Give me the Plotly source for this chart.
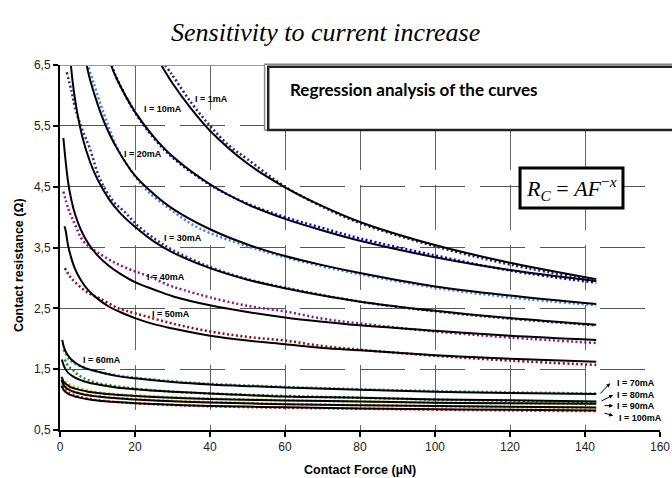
import plotly.graph_objects as go

# ---------------- data ----------------
currents = ["1mA", "10mA", "20mA", "30mA", "40mA", "50mA", "60mA", "70mA", "80mA", "90mA", "100mA"]

# fitted curves (black)  R = A F^-x
fit_x_1 = [27, 30, 35, 40, 50, 60, 70, 80, 100, 120, 143]
fit_y_1 = [6.5, 6.2, 5.78, 5.42, 4.88, 4.49, 4.18, 3.92, 3.54, 3.25, 2.98]
fit_x_10 = [13.6, 15, 20, 25, 30, 40, 50, 60, 70, 80, 100, 120, 143]
fit_y_10 = [6.5, 6.29, 5.73, 5.32, 5.0, 4.54, 4.21, 3.97, 3.78, 3.61, 3.34, 3.13, 2.95]
fit_x_20 = [7.1, 8, 10, 12, 15, 20, 25, 30, 40, 50, 60, 70, 80, 100, 120, 143]
fit_y_20 = [6.5, 6.26, 5.86, 5.53, 5.15, 4.68, 4.38, 4.14, 3.8, 3.55, 3.36, 3.21, 3.08, 2.86, 2.71, 2.57]
fit_x_30 = [2.9, 3.5, 4.5, 6, 8, 10, 13, 16, 20, 25, 30, 40, 50, 60, 70, 80, 100, 120, 143]
fit_y_30 = [6.5, 6.16, 5.75, 5.31, 4.91, 4.62, 4.3, 4.07, 3.84, 3.6, 3.42, 3.16, 2.97, 2.83, 2.71, 2.61, 2.46, 2.34, 2.23]
fit_x_40 = [0.9, 1.5, 2.2, 3, 4, 5.5, 7.5, 10, 13, 16, 20, 25, 30, 40, 50, 60, 70, 80, 100, 120, 143]
fit_y_40 = [5.3, 4.92, 4.56, 4.29, 4.05, 3.8, 3.57, 3.37, 3.2, 3.07, 2.93, 2.81, 2.7, 2.55, 2.44, 2.35, 2.28, 2.22, 2.13, 2.05, 1.98]
fit_x_50 = [1.2, 1.5, 2.2, 3, 4, 5.5, 7.5, 10, 13, 16, 20, 25, 30, 40, 50, 60, 70, 80, 100, 120, 143]
fit_y_50 = [3.85, 3.78, 3.52, 3.33, 3.15, 2.97, 2.8, 2.66, 2.53, 2.44, 2.34, 2.24, 2.17, 2.05, 1.97, 1.91, 1.85, 1.81, 1.73, 1.67, 1.62]
fit_x_60 = [0.6, 1, 1.5, 2.2, 3, 4, 5.5, 7.5, 10, 15, 20, 30, 40, 60, 80, 100, 120, 143]
fit_y_60 = [1.98, 1.87, 1.79, 1.72, 1.66, 1.61, 1.55, 1.5, 1.46, 1.39, 1.35, 1.29, 1.25, 1.2, 1.16, 1.13, 1.11, 1.09]
fit_x_70 = [0.5, 1, 1.5, 2.2, 3, 4, 5.5, 7.5, 10, 15, 20, 30, 40, 60, 80, 100, 120, 143]
fit_y_70 = [1.66, 1.56, 1.5, 1.44, 1.4, 1.36, 1.32, 1.28, 1.25, 1.2, 1.17, 1.13, 1.1, 1.05, 1.03, 1.0, 0.99, 0.97]
fit_x_low = [0.4, 1, 1.5, 2.2, 3, 4, 5.5, 7.5, 10, 15, 20, 30, 40, 60, 80, 100, 120, 143]
fit_y_80 = [1.375, 1.29, 1.26, 1.23, 1.2, 1.18, 1.155, 1.13, 1.11, 1.08, 1.06, 1.03, 1.01, 0.985, 0.97, 0.95, 0.94, 0.93]
fit_y_90 = [1.32, 1.24, 1.2, 1.17, 1.144, 1.12, 1.096, 1.07, 1.05, 1.02, 1.0, 0.972, 0.952, 0.925, 0.907, 0.893, 0.881, 0.87]
fit_y_100 = [1.23, 1.156, 1.124, 1.095, 1.072, 1.05, 1.028, 1.006, 0.986, 0.959, 0.94, 0.914, 0.896, 0.872, 0.854, 0.841, 0.831, 0.821]

# measured curves (coloured dots)
meas_x_1 = [28, 30, 35, 40, 45, 50, 60, 70, 80, 100, 120, 143]
meas_y_1 = [6.5, 6.33, 5.88, 5.5, 5.18, 4.95, 4.5, 4.17, 3.9, 3.52, 3.22, 2.95]
meas_x_10 = [13.8, 15, 20, 25, 30, 40, 50, 60, 70, 80, 100, 120, 143]
meas_y_10 = [6.5, 6.3, 5.72, 5.3, 4.98, 4.53, 4.22, 4.0, 3.82, 3.65, 3.37, 3.12, 2.92]
meas_x_20 = [7.6, 9, 11, 13, 15, 18, 23, 30, 37, 50, 60, 70, 80, 100, 120, 143]
meas_y_20 = [6.46, 6.2, 5.82, 5.48, 5.17, 4.85, 4.45, 4.1, 3.82, 3.52, 3.34, 3.19, 3.06, 2.84, 2.68, 2.55]
meas_x_30 = [1.8, 3.1, 4, 5.8, 8, 10.7, 14.2, 17.3, 20.9, 25.8, 30, 40, 50, 60, 80, 100, 120, 143]
meas_y_30 = [6.38, 6.06, 5.8, 5.46, 5.12, 4.62, 4.26, 4.08, 3.85, 3.62, 3.46, 3.18, 2.98, 2.84, 2.61, 2.45, 2.33, 2.22]
meas_x_40 = [0.9, 2.2, 3.1, 4.4, 5.8, 8, 10, 14, 19, 24, 29, 33, 40, 50, 60, 70, 80, 100, 120, 143]
meas_y_40 = [4.42, 4.14, 4.0, 3.82, 3.64, 3.5, 3.42, 3.27, 3.13, 3.02, 2.88, 2.8, 2.68, 2.54, 2.45, 2.33, 2.25, 2.12, 2.02, 1.93]
meas_x_50 = [1.3, 2.7, 4.9, 7.6, 10.7, 15.6, 20, 30, 40, 50, 60, 70, 80, 100, 120, 143]
meas_y_50 = [3.16, 3.02, 2.88, 2.75, 2.66, 2.5, 2.42, 2.25, 2.12, 2.03, 1.97, 1.88, 1.82, 1.72, 1.64, 1.57]
meas_x_60 = [0.9, 1.5, 2.2, 3, 4, 5.5, 7.5, 10, 15, 20, 30, 40, 60, 80, 100, 120, 143]
meas_y_60 = [1.82, 1.75, 1.68, 1.63, 1.59, 1.55, 1.5, 1.46, 1.4, 1.36, 1.3, 1.26, 1.21, 1.17, 1.14, 1.12, 1.1]
meas_x_70 = [1.3, 2.2, 3.5, 5, 7.5, 10, 15, 20, 30, 40, 60, 80, 100, 120, 143]
meas_y_70 = [1.66, 1.55, 1.48, 1.4, 1.32, 1.27, 1.22, 1.18, 1.13, 1.1, 1.06, 1.03, 1.0, 0.98, 0.96]
meas_x_low = [0.5, 1.3, 2.2, 3.5, 5, 7.5, 10, 15, 20, 30, 40, 60, 80, 100, 120, 143]
meas_y_80 = [1.35, 1.3, 1.26, 1.22, 1.19, 1.15, 1.12, 1.09, 1.07, 1.04, 1.02, 0.99, 0.97, 0.95, 0.94, 0.93]
meas_y_90 = [1.27, 1.22, 1.18, 1.14, 1.11, 1.08, 1.06, 1.03, 1.01, 0.98, 0.96, 0.93, 0.91, 0.89, 0.875, 0.86]
meas_y_100 = [1.22, 1.17, 1.12, 1.08, 1.05, 1.02, 0.99, 0.96, 0.94, 0.91, 0.89, 0.865, 0.85, 0.835, 0.82, 0.81]

x_ticks = [0, 20, 40, 60, 80, 100, 120, 140, 160]
y_ticks = [0.5, 1.5, 2.5, 3.5, 4.5, 5.5, 6.5]
y_tick_labels = ["0,5", "1,5", "2,5", "3,5", "4,5", "5,5", "6,5"]

# ---------------- assembly ----------------
fits = [(fit_x_1, fit_y_1), (fit_x_10, fit_y_10), (fit_x_20, fit_y_20), (fit_x_30, fit_y_30),
        (fit_x_40, fit_y_40), (fit_x_50, fit_y_50), (fit_x_60, fit_y_60), (fit_x_70, fit_y_70),
        (fit_x_low, fit_y_80), (fit_x_low, fit_y_90), (fit_x_low, fit_y_100)]
meas = [(meas_x_1, meas_y_1), (meas_x_10, meas_y_10), (meas_x_20, meas_y_20), (meas_x_30, meas_y_30),
        (meas_x_40, meas_y_40), (meas_x_50, meas_y_50), (meas_x_60, meas_y_60), (meas_x_70, meas_y_70),
        (meas_x_low, meas_y_80), (meas_x_low, meas_y_90), (meas_x_low, meas_y_100)]
meas_colors = ["#1f1f8f", "#0000ff", "#3d7dff", "#2b2ba8", "#8b1a8b", "#8b1010",
               "#2a9a9a", "#1e8c1e", "#a8d000", "#ff9900", "#ff1a1a"]

fig = go.Figure()
for name, (mx, my), col in zip(currents, meas, meas_colors):
    fig.add_trace(go.Scatter(x=mx, y=my, mode="lines", name="I = " + name + " (measured)",
                             line=dict(color=col, width=2.5, dash="2px,2.5px", shape="spline", smoothing=1)))
for name, (fx, fy) in zip(currents, fits):
    fig.add_trace(go.Scatter(x=fx, y=fy, mode="lines", name="I = " + name + " (fit)",
                             line=dict(color="black", width=2, shape="spline", smoothing=1)))

lab_font = dict(family="Liberation Sans, Arial", size=9, color="black")
label_pos = {"1mA": (40.5, 5.94), "10mA": (27.5, 5.78), "20mA": (22.1, 5.04), "30mA": (32.8, 3.66),
             "40mA": (28.3, 3.02), "50mA": (29.6, 2.41), "60mA": (11.2, 1.65)}
annotations = []
for name, (lx, ly) in label_pos.items():
    annotations.append(dict(x=lx, y=ly, xref="x", yref="y", text="<b>I = " + name + "</b>",
                            showarrow=False, font=lab_font, xanchor="center", yanchor="middle"))
right_labels = {"70mA": ((148, 1.27), (146.7, 1.27), (143.7, 1.075)),
                "80mA": ((148, 1.075), (147.5, 1.075), (144.0, 0.965)),
                "90mA": ((148, 0.895), (147.5, 0.9), (144.8, 0.9)),
                "100mA": ((148.6, 0.70), (147.5, 0.735), (144.8, 0.785))}
for name, (lp, head, tail) in right_labels.items():
    annotations.append(dict(x=lp[0], y=lp[1], xref="x", yref="y", text="<b>I = " + name + "</b>",
                            showarrow=False, xanchor="left", yanchor="middle", font=lab_font))
    annotations.append(dict(x=head[0], y=head[1], xref="x", yref="y", ax=tail[0], ay=tail[1],
                            axref="x", ayref="y", text="", showarrow=True, arrowhead=2,
                            arrowsize=0.8, arrowwidth=1, arrowcolor="black"))

annotations += [
    dict(x=0.443, y=1.0877, xref="paper", yref="paper", text="<i>Sensitivity to current increase</i>",
         showarrow=False, xanchor="center", yanchor="middle",
         font=dict(family="Liberation Serif, Times New Roman", size=26, color="black")),
    dict(x=0.38, y=0.934, xref="paper", yref="paper", xanchor="left", yanchor="middle",
         text="<b>Regression analysis of the curves</b>", showarrow=False,
         font=dict(family="Lato, Carlito, sans-serif", size=17, color="black")),
    dict(x=0.8517, y=0.663, xref="paper", yref="paper", xanchor="center", yanchor="middle",
         text="<i>R</i><sub><i>C</i></sub> = <i>AF</i><sup>\u2212<i>x</i></sup>", showarrow=False,
         font=dict(family="Liberation Serif, Times New Roman", size=22, color="black")),
    dict(x=-0.0683, y=0.452, xref="paper", yref="paper", text="<b>Contact resistance (\u03a9)</b>",
         textangle=-90, showarrow=False, xanchor="center", yanchor="middle",
         font=dict(family="Liberation Sans, Arial", size=12.5, color="black")),
    dict(x=0.5, y=-0.1096, xref="paper", yref="paper", text="<b>Contact Force (\u00b5N)</b>",
         showarrow=False, xanchor="center", yanchor="middle",
         font=dict(family="Liberation Sans, Arial", size=12.5, color="black")),
]

shapes = [
    dict(type="line", xref="paper", yref="y", x0=0, x1=1, y0=6.5, y1=6.5,
         line=dict(color="#9a9a9a", width=2), layer="above"),
    dict(type="rect", xref="paper", yref="paper", x0=0.341, x1=1.06, y0=0.822, y1=1.002,
         line=dict(color="#8a8a8a", width=1.5), fillcolor="white", layer="above"),
    dict(type="rect", xref="paper", yref="paper", x0=0.347, x1=1.06, y0=0.822, y1=0.995,
         line=dict(color="#222", width=2.5), fillcolor="white", layer="above"),
    dict(type="rect", xref="paper", yref="paper", x0=0.7667, x1=0.9383, y0=0.6082, y1=0.7178,
         line=dict(color="black", width=3), fillcolor="white", layer="above"),
]

tick_font = dict(family="Liberation Sans, Arial", size=12, color="#222")
fig.update_layout(
    width=672, height=478, margin=dict(l=60, r=12, t=65, b=48, autoexpand=False),
    plot_bgcolor="white", paper_bgcolor="white", showlegend=False,
    annotations=annotations, shapes=shapes,
    xaxis=dict(range=[0, 160], tickmode="array", tickvals=x_ticks, ticks="outside", ticklen=5,
               tickwidth=1.5, tickcolor="black", showline=True, linecolor="black", linewidth=2,
               showgrid=True, gridcolor="#666", gridwidth=1.3, griddash="45px,15px",
               zeroline=False, tickfont=tick_font, automargin=False),
    yaxis=dict(range=[0.5, 6.5], tickmode="array", tickvals=y_ticks, ticktext=y_tick_labels,
               ticks="outside", ticklen=5, tickwidth=1.5, tickcolor="black", showline=True,
               linecolor="black", linewidth=2, showgrid=True, gridcolor="#555", gridwidth=1,
               griddash="45px,15px", zeroline=False, tickfont=tick_font, automargin=False),
)

fig.write_html("out.html", config={"displayModeBar": False},
               post_script="document.body.style.margin='0';document.body.style.overflow='hidden';")
